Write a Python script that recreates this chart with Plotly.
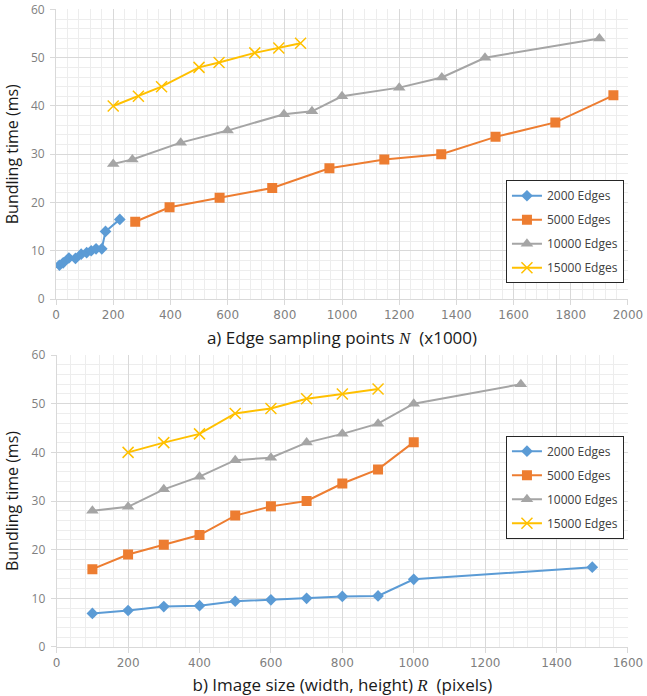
import plotly.graph_objects as go

# ---- data ----
series_names = ["2000 Edges", "5000 Edges", "10000 Edges", "15000 Edges"]

# (a) vs edge sampling points N (x1000)
a_x_2000 = [12, 25, 45, 68, 88, 107, 123, 140, 160, 173, 223]
a_y_2000 = [7, 7.5, 8.5, 8.4, 9.3, 9.6, 10, 10.4, 10.4, 14, 16.5]
a_x_5000 = [277, 397, 572, 756, 956, 1148, 1347, 1537, 1746, 1949]
a_y_5000 = [16, 19, 21, 23, 27.1, 28.9, 30, 33.6, 36.6, 42.2]
a_x_10000 = [200, 267, 436, 600, 797, 895, 1000, 1200, 1349, 1500, 1900]
a_y_10000 = [28, 28.9, 32.4, 34.9, 38.3, 38.9, 42, 43.8, 45.9, 50, 54]
a_x_15000 = [200, 288, 369, 500, 570, 695, 779, 855]
a_y_15000 = [40, 42, 44, 48, 49, 51, 52, 53]

# (b) vs image size R (pixels)
b_x_2000 = [100, 200, 300, 400, 500, 600, 700, 800, 900, 1000, 1500]
b_y_2000 = [6.9, 7.5, 8.3, 8.5, 9.4, 9.7, 10, 10.4, 10.5, 13.9, 16.4]
b_x_5000 = [100, 200, 300, 400, 500, 600, 700, 800, 900, 1000]
b_y_5000 = [16, 19, 21, 23, 27, 28.9, 30, 33.6, 36.5, 42.1]
b_x_10000 = [100, 200, 300, 400, 500, 600, 700, 800, 900, 1000, 1300]
b_y_10000 = [28, 28.8, 32.4, 35, 38.4, 38.9, 42, 43.8, 45.9, 50, 54]
b_x_15000 = [200, 300, 400, 500, 600, 700, 800, 900]
b_y_15000 = [40, 42, 43.8, 48, 49, 51, 52, 53]

colors = ["#5b9bd5", "#ed7d31", "#a5a5a5", "#ffc000"]
symbols = ["diamond", "square", "triangle-up", "x-thin"]
msizes = [9, 10, 11, 11]

fig = go.Figure()

panel_a = [(a_x_2000, a_y_2000), (a_x_5000, a_y_5000), (a_x_10000, a_y_10000), (a_x_15000, a_y_15000)]
panel_b = [(b_x_2000, b_y_2000), (b_x_5000, b_y_5000), (b_x_10000, b_y_10000), (b_x_15000, b_y_15000)]

for panel, xa, ya, leg in [(panel_a, "x", "y", "legend"), (panel_b, "x2", "y2", "legend2")]:
    for i, (xs, ys) in enumerate(panel):
        marker = dict(symbol=symbols[i], size=msizes[i], color=colors[i])
        if symbols[i] == "x-thin":
            marker["line"] = dict(color=colors[i], width=1.5)
        fig.add_trace(go.Scatter(
            x=xs, y=ys, mode="lines+markers", name=series_names[i],
            line=dict(color=colors[i], width=2), marker=marker,
            xaxis=xa, yaxis=ya, legend=leg, legendgroup=leg + str(i),
        ))

xtickfont = dict(family="DejaVu Sans, sans-serif", size=12, color="#7f7f7f")
ytickfont = dict(family="Open Sans, sans-serif", size=12, color="#7f7f7f")
xtitlefont = dict(family="Open Sans, sans-serif", size=17, color="#1a1a1a")
ytitlefont = dict(family="Open Sans, sans-serif", size=16, color="#1a1a1a")
grid_major = "#d9d9d9"
grid_minor = "#ededed"

def xaxis_cfg(rng, domain, title, anchor):
    return dict(
        range=rng, domain=domain, anchor=anchor, dtick=200, tick0=0,
        showgrid=True, gridcolor=grid_major, gridwidth=1,
        minor=dict(dtick=40, showgrid=True, gridcolor=grid_minor, gridwidth=1),
        showline=True, linecolor=grid_major, linewidth=1,
        ticks="outside", ticklen=5, tickcolor=grid_major,
        tickfont=xtickfont, zeroline=False, automargin=False,
        ticklabeloverflow="allow",
        title=dict(text=title, font=xtitlefont, standoff=10),
    )

def yaxis_cfg(domain, anchor):
    return dict(
        range=[0, 60], domain=domain, anchor=anchor, dtick=10, tick0=0,
        showgrid=True, gridcolor=grid_major, gridwidth=1,
        minor=dict(dtick=2, showgrid=True, gridcolor=grid_minor, gridwidth=1),
        showline=True, linecolor=grid_major, linewidth=1,
        ticks="outside", ticklen=5, tickcolor=grid_major,
        tickfont=ytickfont, zeroline=False, automargin=False,
        ticklabelstandoff=3, ticklabeloverflow="allow",
        title=dict(text="Bundling time (ms)", font=ytitlefont, standoff=8),
    )

serif = "font-family:'Liberation Serif', 'DejaVu Serif', serif"
title_a = "a) Edge sampling points <span style=\"%s\"><i>N</i></span>&nbsp;&nbsp;(x1000)" % serif
title_b = "b) Image size (width, height) <span style=\"%s\"><i>R</i></span>&nbsp;&nbsp;(pixels)" % serif

legend_common = dict(
    bgcolor="white", bordercolor="#262626", borderwidth=1,
    font=dict(family="Open Sans, sans-serif", size=12, color="#404040"),
    xanchor="left", yanchor="top", tracegroupgap=5,
    itemwidth=30,
)

fig.update_layout(
    width=647, height=696,
    margin=dict(l=0, r=0, t=0, b=0),
    paper_bgcolor="white", plot_bgcolor="white",
    showlegend=True,
    xaxis=xaxis_cfg([0, 2000], [0.0866, 0.9706], title_a, "y"),
    yaxis=yaxis_cfg([0.5704, 0.9864], "x"),
    xaxis2=xaxis_cfg([0, 1600], [0.0876, 0.9706], title_b, "y2"),
    yaxis2=yaxis_cfg([0.0704, 0.4899], "x2"),
    legend=dict(x=0.782, y=0.741, **legend_common),
    legend2=dict(x=0.782, y=0.374, **legend_common),
)

fig.write_html(
    "out.html",
    config={"displayModeBar": False},
    post_script="document.body.style.margin='0px';document.body.style.overflow='hidden';",
)
